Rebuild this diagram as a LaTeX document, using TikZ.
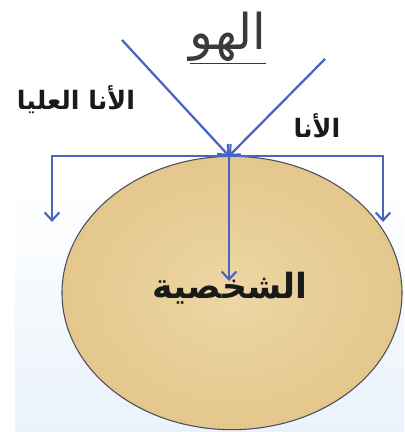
\documentclass[tikz,border=0pt]{standalone}
\usepackage{fontspec}
\usepackage{tikz}
\usepackage{xcolor}
\usetikzlibrary{arrows.meta,positioning,shapes.geometric}
\TeXXeTstate=1
\newfontfamily\arabicfont[Script=Arabic]{DejaVu Sans}
\definecolor{Ink}{HTML}{1A1A1A}
\definecolor{TitleInk}{HTML}{3A3A3A}
\definecolor{ArrowBlue}{HTML}{4A64C4}
\definecolor{Papyrus}{HTML}{E4C78C}
\definecolor{PapyrusLight}{HTML}{EDD7A4}
\definecolor{Rim}{HTML}{4A4E5E}
\definecolor{PaleSky}{HTML}{EAF2FB}

\begin{document}
\begin{tikzpicture}[
  x=0.75pt,y=-0.75pt,
  persona/.style={ellipse, draw=Rim, line width=0.8pt, inner color=PapyrusLight, outer color=Papyrus, minimum width=255pt, minimum height=205pt},
  title/.style={font=\arabicfont\fontsize{37}{40}\selectfont, text=TitleInk},
  part/.style={font=\arabicfont\bfseries\fontsize{19}{22}\selectfont, text=Ink},
  core/.style={font=\arabicfont\bfseries\fontsize{26}{30}\selectfont, text=Ink},
  arr/.style={-{Straight Barb[length=6pt,width=11pt,line width=1.6pt]}, line width=1.7pt, draw=ArrowBlue}
]
  \useasboundingbox (0,0) rectangle (404,432);
  \shade[top color=white, bottom color=PaleSky] (15,190) rectangle (404,432);

  % personality
  \node[persona] (persona) at (232,293) {};
  \node[core] (personaText) at (230,288) {\beginR الشخصية\endR};

  % labels
  \node[title] (id) at (228,38) {\beginR\underline{الهو}\endR};
  \node[part] (superego) at (76,100) {\beginR الأنا العليا\endR};
  \node[part] (ego) at (317,126) {\beginR الأنا\endR};

  \coordinate (top) at (229,156);
  \coordinate (idStart) at (122,40);
  \coordinate (egoStart) at (325,59);
  \coordinate (leftTip) at (52,222);
  \coordinate (rightTip) at (383,222);
  \coordinate (coreTip) at (229,281);

  \draw[arr] (idStart) -- (top);
  \draw[arr] (egoStart) -- (top);
  \draw[arr] (top) -| (leftTip);
  \draw[arr] (top) -| (rightTip);
  \draw[arr] (top) -- (coreTip);
\end{tikzpicture}
\end{document}
